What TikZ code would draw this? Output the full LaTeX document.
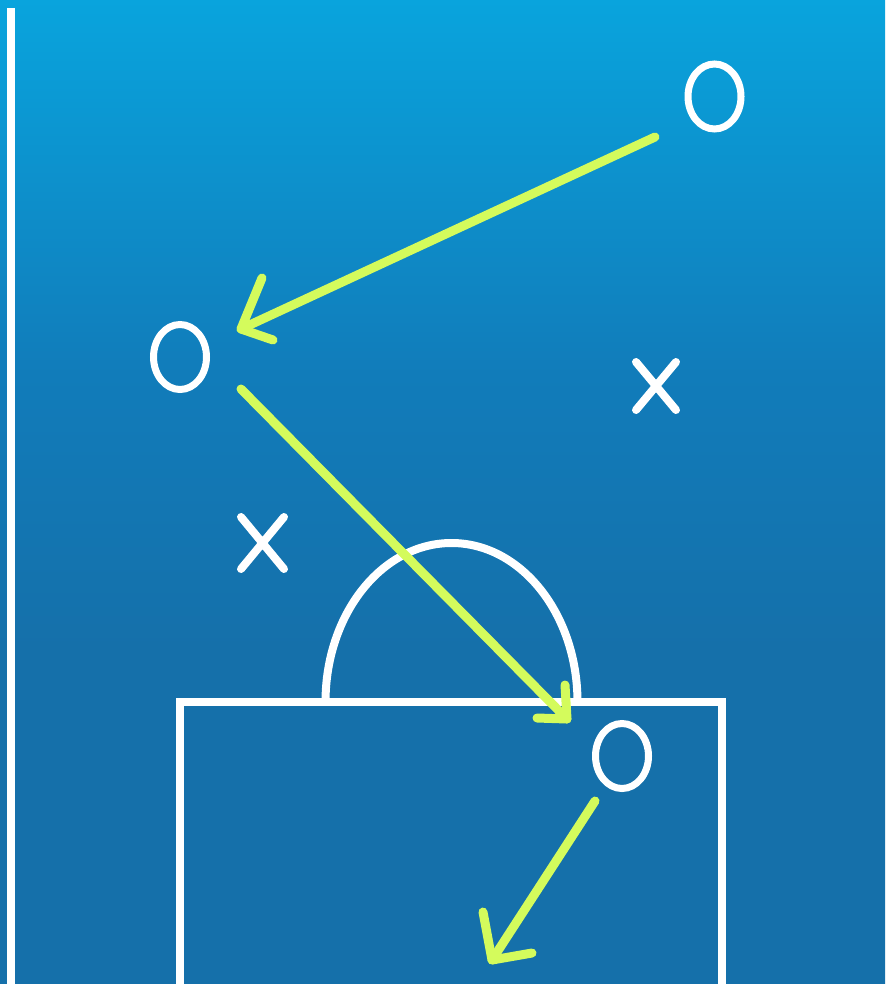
\documentclass[tikz,border=0pt]{standalone}
\usetikzlibrary{shapes.geometric}
\definecolor{bgtop}{RGB}{9,164,221}
\definecolor{bgmid}{RGB}{17,124,186}
\definecolor{bgbot}{RGB}{21,112,170}
\definecolor{arrowgreen}{RGB}{212,251,92}
\pgfdeclareverticalshading{bgshade}{100bp}{color(0bp)=(bgbot); color(42bp)=(bgbot); color(56bp)=(bgmid); color(75bp)=(bgtop); color(100bp)=(bgtop)}
\tikzset{
  omark/.style={ellipse, draw=white, line width=5.25pt, minimum width=39.75pt, minimum height=48.75pt, inner sep=0pt},
  xmark/.style={draw=white, line width=6pt, line cap=round},
  pitchline/.style={draw=white, line width=6pt},
  passline/.style={draw=arrowgreen, line width=6.75pt, line cap=round, line join=round},
}
\begin{document}
\begin{tikzpicture}[x=0.75pt,y=-0.75pt]
\useasboundingbox (0,0) rectangle (885,984);
\fill[shading=bgshade] (0,0) rectangle (885,984);
\begin{scope}
\clip (0,0) rectangle (885,984);
% pitch markings
\draw[pitchline] (11,8) -- (11,1000);
\draw[pitchline] (180,1010) -- (180,702) -- (722,702) -- (722,1010);
\draw[pitchline] (325.5,702) arc[start angle=180, end angle=360, x radius=126, y radius=159];
% players
\node[omark] (o1) at (714.5,96.5) {};
\node[omark] (o2) at (180,357) {};
\node[omark] (o3) at (622,756) {};
\coordinate (x1) at (656,386);
\coordinate (x2) at (262.5,543);
\draw[xmark] (x1) ++(-20,-24) -- ++(40,48) (x1) ++(20,-24) -- ++(-40,48);
\draw[xmark] (x2) ++(-21.5,-26) -- ++(43,52) (x2) ++(21.5,-26) -- ++(-43,52);
% passes
\coordinate (a1s) at (655,137);
\coordinate (a1e) at (241,329);
\coordinate (a2s) at (241,389);
\coordinate (a2e) at (567,719);
\coordinate (a3s) at (595,801);
\coordinate (a3e) at (492,960);
\draw[passline] (a1s) -- (a1e);
\draw[passline] (262,278) -- (a1e) -- (273,340);
\draw[passline] (a2s) -- (a2e);
\draw[passline] (565,685) -- (a2e) -- (537,718);
\draw[passline] (a3s) -- (a3e);
\draw[passline] (483,912) -- (a3e) -- (532,953);
\end{scope}
\end{tikzpicture}
\end{document}
